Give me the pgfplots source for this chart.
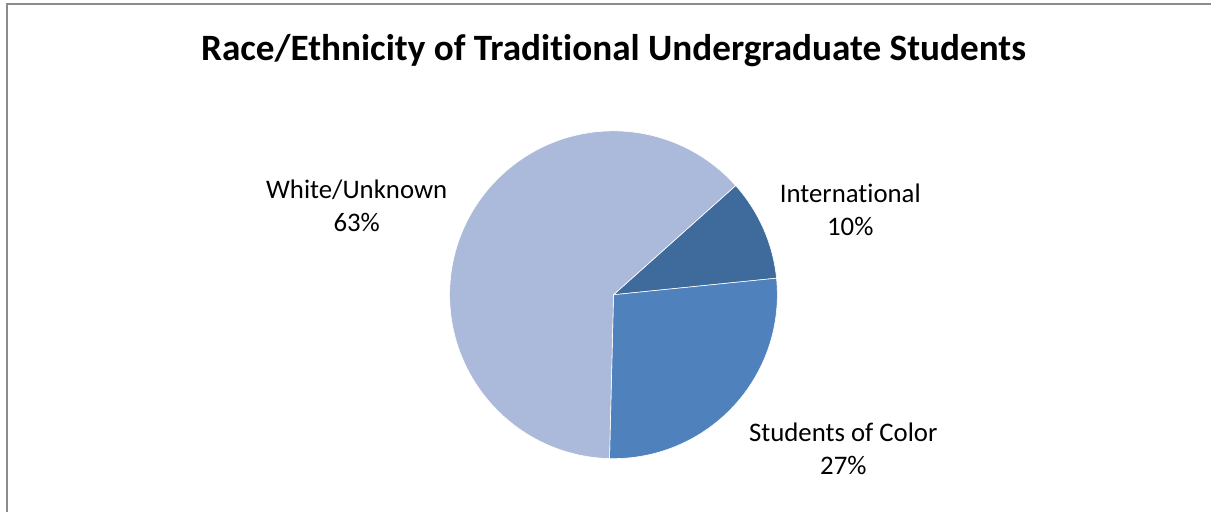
\documentclass[border=0pt]{standalone}
\usepackage{pgfplots}
\pgfplotsset{compat=1.18}
\usepackage{pgfplotstable}
\usepackage{fontspec}
\setmainfont{Carlito}[Ligatures=NoCommon]

\definecolor{cWhite}{HTML}{ABBADA}
\definecolor{cInt}{HTML}{3F6A9C}
\definecolor{cColor}{HTML}{4F81BD}
\definecolor{frameGray}{HTML}{8C8C8C}

% share of students, percent (clockwise from the start angle)
\pgfplotstableread{
label share
International 10
Color 27
White 63
}\piedata

\begin{document}
\begin{tikzpicture}
\pgfplotstablegetelem{0}{share}\of\piedata \let\sInt\pgfplotsretval
\pgfplotstablegetelem{1}{share}\of\piedata \let\sCol\pgfplotsretval
\pgfplotstablegetelem{2}{share}\of\piedata \let\sWhi\pgfplotsretval
\pgfmathsetmacro\aA{41.8}
\pgfmathsetmacro\aB{\aA-3.6*\sInt}
\pgfmathsetmacro\aC{\aB-3.6*\sCol}
\pgfmathsetmacro\aD{\aC-3.6*\sWhi}
\begin{axis}[
  scale only axis, width=606pt, height=256pt,
  xmin=0, xmax=1212, ymin=0, ymax=512,
  hide axis, clip=false,
]
\path (axis cs:0,0) rectangle (axis cs:1212,512);
\draw[frameGray, line width=1pt] (axis cs:7,0) -- (axis cs:7,508) -- (axis cs:1212,508);

\fill[cInt, draw=white, line width=0.3pt] (axis cs:614,217) -- ++(\aA:82pt)
  arc[start angle=\aA, end angle=\aB, radius=82pt] -- cycle;
\fill[cColor, draw=white, line width=0.3pt] (axis cs:614,217) -- ++(\aB:82pt)
  arc[start angle=\aB, end angle=\aC, radius=82pt] -- cycle;
\fill[cWhite, draw=white, line width=0.3pt] (axis cs:614,217) -- ++(\aC:82pt)
  arc[start angle=\aC, end angle=\aD, radius=82pt] -- cycle;

\node[font=\bfseries\fontsize{18.6}{22}\selectfont] at (axis cs:614,461)
  {Race/Ethnicity of Traditional Undergraduate Students};
\node[align=center, font=\fontsize{13.4}{16.5}\selectfont] at (axis cs:357,306) {White/Unknown\\63\%};
\node[align=center, font=\fontsize{13.4}{16.5}\selectfont] at (axis cs:851,302) {International\\10\%};
\node[align=center, font=\fontsize{13.4}{16.5}\selectfont] at (axis cs:844,63) {Students of Color\\27\%};
\end{axis}
\end{tikzpicture}
\end{document}
